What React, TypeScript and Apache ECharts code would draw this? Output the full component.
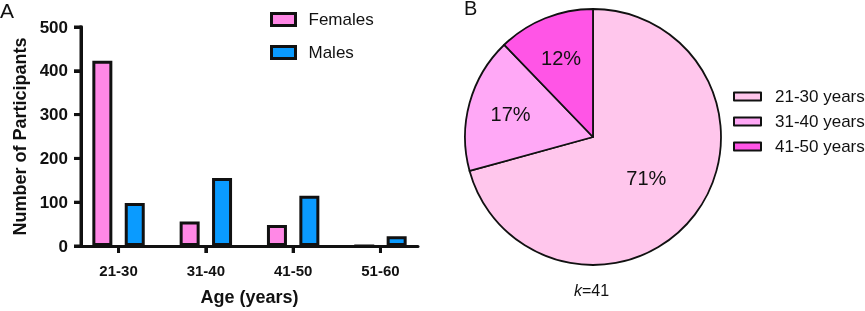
import React, { useEffect, useRef } from "react";
import * as echarts from "echarts";

const ageGroups = ["21-30", "31-40", "41-50", "51-60"];
const females = [423, 56, 48, 0];
const males = [98, 155, 115, 22];
const yTicks = [0, 100, 200, 300, 400, 500];

const pieNames = ["21-30 years", "31-40 years", "41-50 years"];
const pieStudies = [29, 7, 5];
const studyCount = 41;

// x positions of the age groups on a value axis that starts at 0 (the axis has an outer gap)
const X_PAD = 0.43;
const xPos = ageGroups.map((_, i) => i + X_PAD);

const FONT = "Liberation Sans, Arial, Helvetica, sans-serif";
const INK = "#111111";
const FEMALE = "#FF88E6";
const MALE = "#0A9BFF";
const PIE_COLORS = ["#FFC6EC", "#FFA8F6", "#FF55E6"];
const TICK_LEN = 7;

function axisFrame(_params: any, api: any) {
  const bottom = api.coord([0, yTicks[0]]);
  const top = api.coord([0, yTicks[yTicks.length - 1]]);
  const style = { stroke: INK, lineWidth: 3 };
  const children: any[] = [
    { type: "line", shape: { x1: bottom[0], y1: bottom[1] + 1.5, x2: top[0], y2: top[1] - 1.5 }, style },
  ];
  yTicks.forEach((v) => {
    const p = api.coord([0, v]);
    children.push({ type: "line", shape: { x1: p[0] - TICK_LEN, y1: p[1], x2: p[0], y2: p[1] }, style });
  });
  xPos.forEach((x) => {
    const p = api.coord([x, yTicks[0]]);
    children.push({ type: "line", shape: { x1: p[0], y1: p[1], x2: p[0], y2: p[1] + TICK_LEN }, style });
  });
  return { type: "group", children };
}

function barOption() {
  return {
    animation: false,
    title: [
      { text: "A", left: 0, top: 0, padding: 0, textStyle: { fontSize: 21, fontWeight: "normal", color: INK, fontFamily: FONT } },
    ],
    legend: [
      {
        data: ["Females", "Males"],
        orient: "vertical",
        left: 270,
        top: 11,
        padding: 0,
        itemWidth: 24,
        itemHeight: 12,
        itemGap: 16,
        icon: "rect",
        itemStyle: { borderColor: INK, borderWidth: 3 },
        textStyle: { fontSize: 17, color: INK, fontFamily: FONT, padding: [0, 0, 0, 8] },
      },
    ],
    grid: { left: 81, right: 22, top: 27, bottom: 59 },
    xAxis: {
      type: "value",
      min: 0,
      max: xPos[xPos.length - 1] + X_PAD,
      name: "Age (years)",
      nameLocation: "middle",
      nameGap: 42,
      nameTextStyle: { fontSize: 18, fontWeight: "bold", color: INK, fontFamily: FONT },
      axisLine: { show: true, lineStyle: { color: INK, width: 3 } },
      axisTick: { show: true, customValues: xPos, length: TICK_LEN, lineStyle: { color: INK, width: 3 } },
      axisLabel: {
        customValues: xPos,
        formatter: (v: number) => ageGroups[Math.round(v - X_PAD)] ?? "",
        fontSize: 15,
        fontWeight: "bold",
        color: INK,
        fontFamily: FONT,
        margin: 17,
      },
      splitLine: { show: false },
    },
    yAxis: {
      type: "value",
      position: "left",
      min: yTicks[0],
      max: yTicks[yTicks.length - 1],
      interval: yTicks[1] - yTicks[0],
      name: "Number of Participants",
      nameLocation: "middle",
      nameGap: 52,
      nameTextStyle: { fontSize: 18, fontWeight: "bold", color: INK, fontFamily: FONT },
      axisLine: { show: true, onZero: false, lineStyle: { color: INK, width: 3 } },
      axisTick: { show: true, length: TICK_LEN, lineStyle: { color: INK, width: 3 } },
      axisLabel: { fontSize: 17, fontWeight: "bold", color: INK, fontFamily: FONT, margin: 13 },
      splitLine: { show: false },
    },
    series: [
      {
        type: "bar",
        name: "Females",
        data: females.map((v, i) => [xPos[i], v]),
        barWidth: 20,
        barGap: "62%",
        itemStyle: { color: FEMALE, borderColor: INK, borderWidth: 3 },
      },
      {
        type: "bar",
        name: "Males",
        data: males.map((v, i) => [xPos[i], v]),
        barWidth: 20,
        barGap: "62%",
        itemStyle: { color: MALE, borderColor: INK, borderWidth: 3 },
      },
      {
        type: "custom",
        name: "axisFrame",
        silent: true,
        clip: false,
        z: 5,
        renderItem: axisFrame,
        data: [[0, 0]],
      },
    ],
  };
}

function pieOption() {
  const pct = (p: any) => Math.round(p.percent) + "%";
  const center = [153, 137];
  return {
    animation: false,
    title: [
      { text: "B", left: 24, top: -2, padding: 0, textStyle: { fontSize: 20, fontWeight: "normal", color: INK, fontFamily: FONT } },
      {
        text: "{i|k}=" + studyCount,
        left: 134,
        top: 282,
        padding: 0,
        textStyle: {
          fontSize: 16,
          fontWeight: "normal",
          color: INK,
          fontFamily: FONT,
          rich: { i: { fontStyle: "italic", fontSize: 16, color: INK, fontFamily: FONT } },
        },
      },
    ],
    legend: [
      {
        data: pieNames,
        orient: "vertical",
        left: 293,
        top: 88,
        padding: 0,
        itemWidth: 27,
        itemHeight: 8,
        itemGap: 8,
        icon: "rect",
        itemStyle: { borderColor: INK, borderWidth: 2 },
        textStyle: { fontSize: 17, color: INK, fontFamily: FONT, padding: [0, 0, 0, 9] },
      },
    ],
    series: [
      {
        type: "pie",
        name: "studies",
        center,
        radius: [0, 128],
        startAngle: 90,
        clockwise: true,
        avoidLabelOverlap: false,
        emphasis: { disabled: true },
        itemStyle: { borderColor: INK, borderWidth: 1.8 },
        label: { show: true, position: "inside", formatter: pct, fontSize: 20, color: INK, fontFamily: FONT },
        labelLine: { show: false },
        data: pieNames.map((n, i) => ({
          name: n,
          value: pieStudies[i],
          itemStyle: { color: PIE_COLORS[i] },
          label: { show: i === 0 },
        })),
      },
      {
        type: "pie",
        name: "studyLabels",
        center,
        radius: [0, 165],
        startAngle: 90,
        clockwise: true,
        silent: true,
        z: 3,
        avoidLabelOverlap: false,
        emphasis: { disabled: true },
        itemStyle: { color: "rgba(0,0,0,0)", borderWidth: 0 },
        label: { show: true, position: "inside", formatter: pct, fontSize: 20, color: INK, fontFamily: FONT },
        labelLine: { show: false },
        data: pieNames.map((n, i) => ({
          name: n,
          value: pieStudies[i],
          itemStyle: { color: "rgba(0,0,0,0)" },
          label: { show: i !== 0 },
        })),
      },
    ],
  };
}

export default function App() {
  const barRef = useRef<HTMLDivElement>(null);
  const pieRef = useRef<HTMLDivElement>(null);

  useEffect(() => {
    document.body.style.margin = "0";
    if (!barRef.current || !pieRef.current) return;
    const bar = echarts.init(barRef.current, undefined, { renderer: "svg" });
    const pie = echarts.init(pieRef.current, undefined, { renderer: "svg" });
    bar.setOption(barOption());
    pie.setOption(pieOption());
    return () => {
      bar.dispose();
      pie.dispose();
    };
  }, []);

  return (
    <div>
      <div ref={barRef} style={{ position: "fixed", left: 0, top: 0, width: 440, height: 311 }} />
      <div ref={pieRef} style={{ position: "fixed", left: 440, top: 0, width: 425, height: 311 }} />
    </div>
  );
}
